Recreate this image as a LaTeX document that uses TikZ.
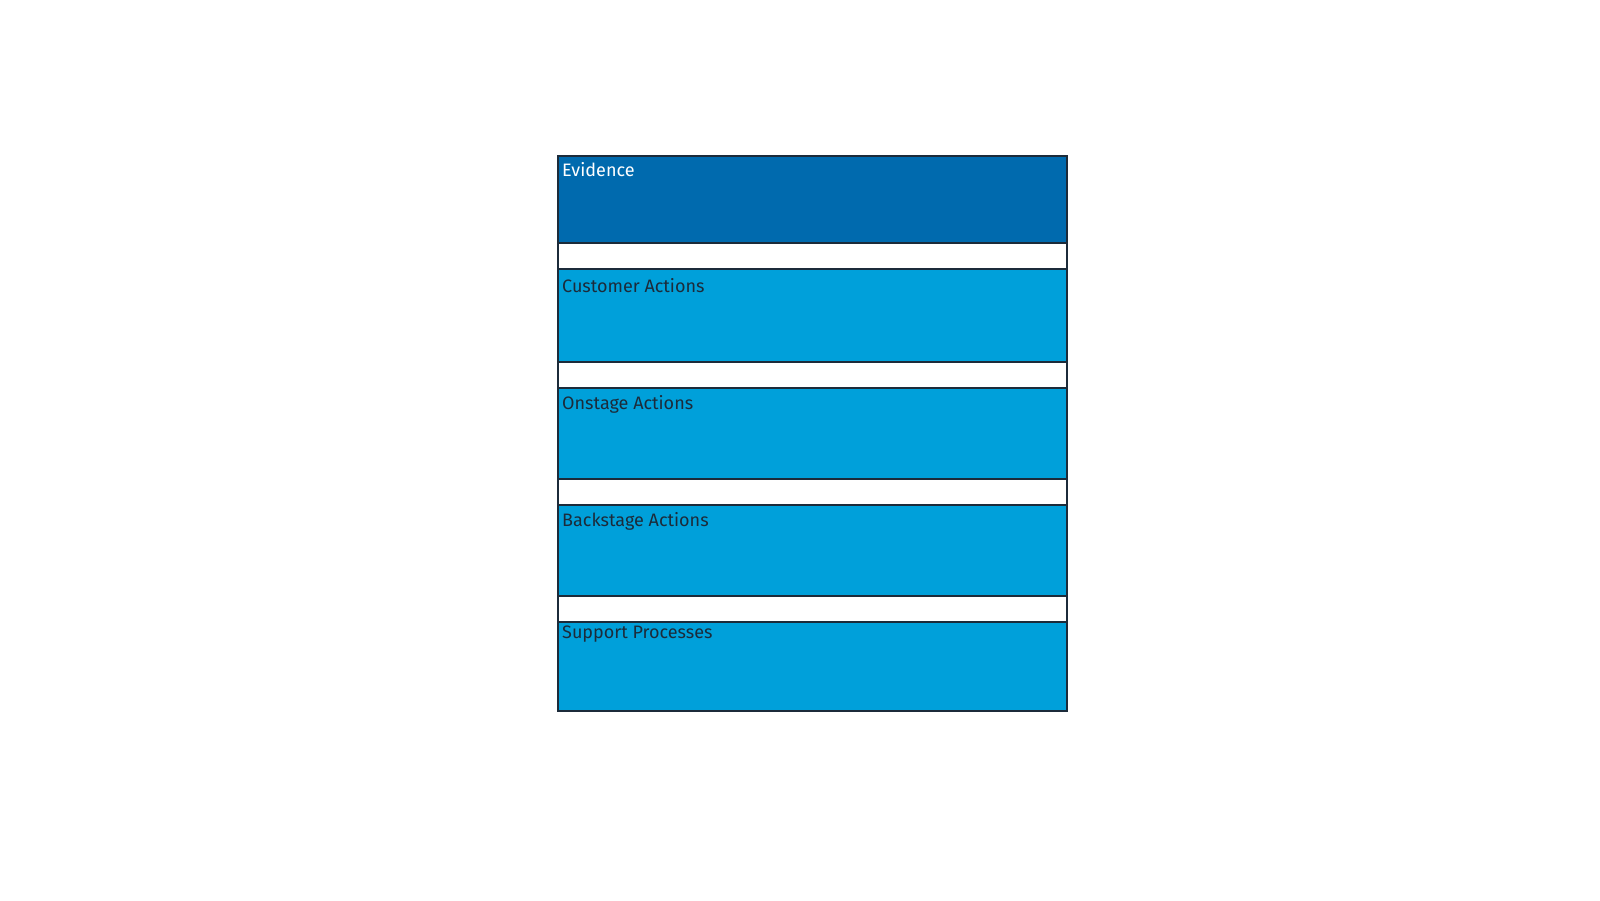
\documentclass[tikz,border=0pt]{standalone}
\usepackage{fontspec}
\setmainfont{Fira Sans}
\usepackage{tikz}
\usetikzlibrary{positioning}
\definecolor{evidblue}{HTML}{006AAE}
\definecolor{laneblue}{HTML}{00A0DA}
\definecolor{inkdark}{HTML}{1C2B3A}
\tikzset{
  band/.style={draw=inkdark, line width=1.2pt, minimum width=509pt, inner sep=0pt, outer sep=0pt, anchor=north west},
  gap/.style={band, fill=white, minimum height=26pt},
  lbl/.style={inner sep=0pt, anchor=north west, text=inkdark, font=\fontsize{18pt}{21pt}\selectfont}
}

\begin{document}
\begin{tikzpicture}[x=1pt, y=1pt]
      \useasboundingbox (0,0) rectangle (1600,900);
      \node[band, fill=evidblue, minimum height=87pt] (evid) at (558,744) {};
      \node[gap, below=0pt of evid.south west, anchor=north west] (gapa) {};
      \node[band, fill=laneblue, minimum height=93pt, below=0pt of gapa.south west, anchor=north west] (cust) {};
      \node[gap, below=0pt of cust.south west, anchor=north west] (gapb) {};
      \node[band, fill=laneblue, minimum height=91pt, below=0pt of gapb.south west, anchor=north west] (onst) {};
      \node[gap, below=0pt of onst.south west, anchor=north west] (gapc) {};
      \node[band, fill=laneblue, minimum height=91pt, below=0pt of gapc.south west, anchor=north west] (back) {};
      \node[gap, below=0pt of back.south west, anchor=north west] (gapd) {};
      \node[band, fill=laneblue, minimum height=89pt, below=0pt of gapd.south west, anchor=north west] (supp) {};
	  \node[lbl, text=white, below right=6pt and 4pt of evid.north west] (evidlbl) {Evidence};
	  \node[lbl, below right=9pt and 4pt of cust.north west] (custlbl) {Customer Actions};
	  \node[lbl, below right=7pt and 4pt of onst.north west] (onstlbl) {Onstage Actions};
	  \node[lbl, below right=7pt and 4pt of back.north west] (backlbl) {Backstage Actions};
	  \node[lbl, below right=4pt and 4pt of supp.north west] (supplbl) {Support Processes};
    \end{tikzpicture}
\end{document}
